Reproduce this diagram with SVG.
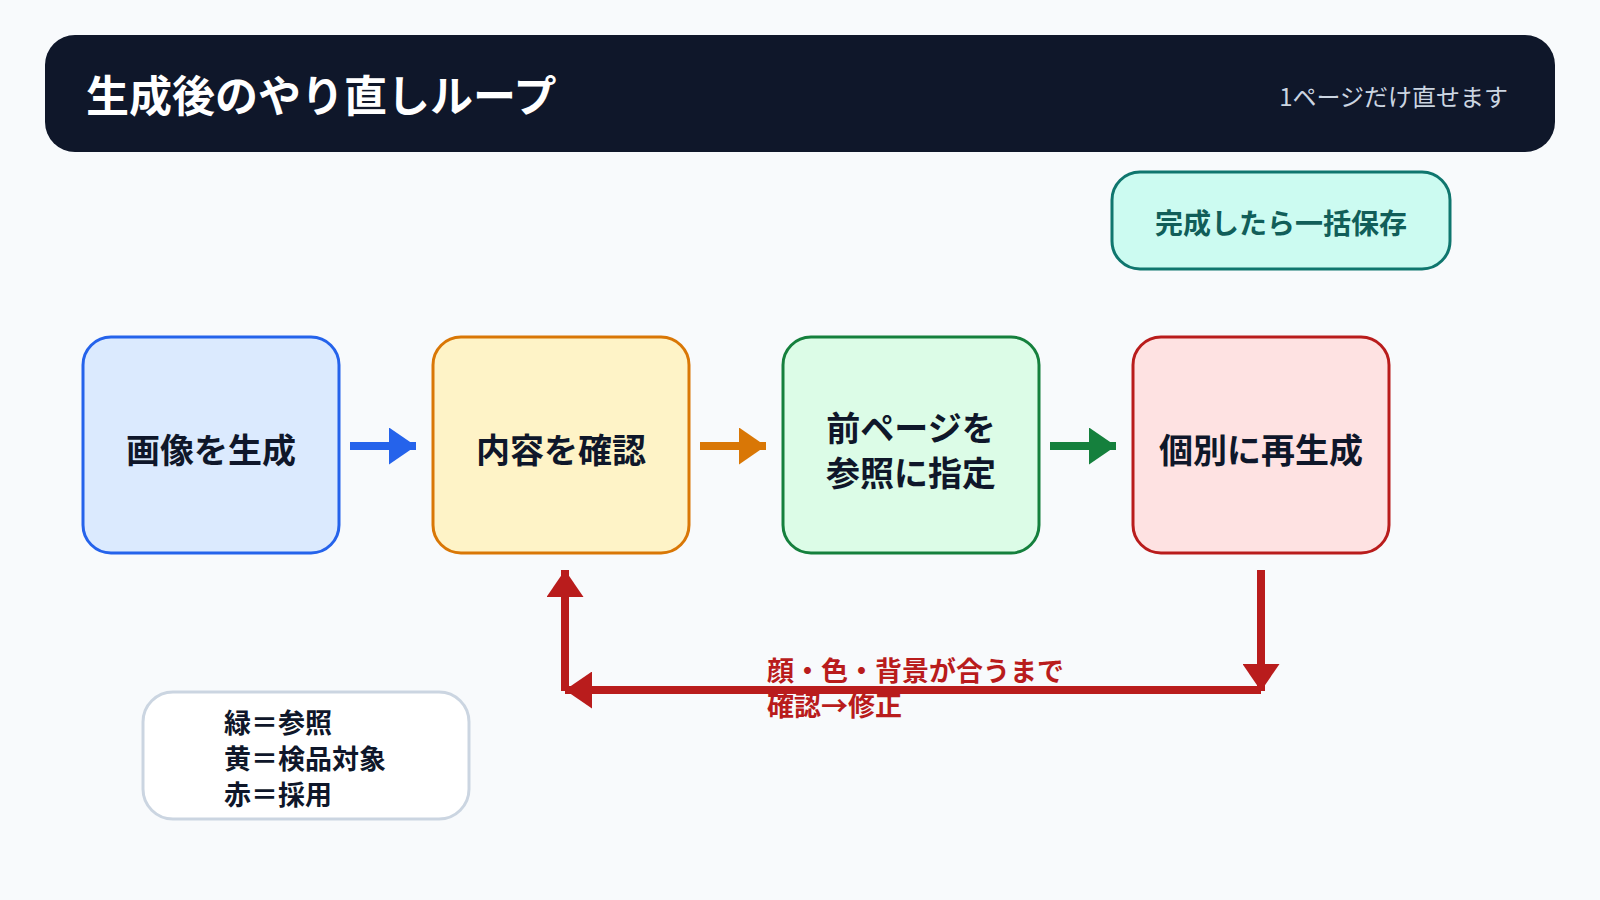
<svg xmlns="http://www.w3.org/2000/svg" width="1600" height="900" viewBox="0 0 1600 900">
  <style>
    text { font-family: "Noto Sans CJK JP", "Noto Sans", sans-serif; }
    .title { font-size: 43px; font-weight: 700; fill: #ffffff; }
    .sub { font-size: 24px; font-weight: 400; fill: #cbd5e1; }
    .node { stroke-width: 3; }
    .nlabel { font-size: 34px; font-weight: 700; fill: #0f172a; text-anchor: middle; }
    .save { font-size: 28px; font-weight: 700; fill: #115e59; text-anchor: middle; }
    .loop { font-size: 27px; font-weight: 700; fill: #b91c1c; }
    .legend { font-size: 27px; font-weight: 700; fill: #0f172a; }
    .conn { fill: none; stroke-width: 8; }
  </style>
  <defs>
    <marker id="hBlue" markerUnits="userSpaceOnUse" markerWidth="27" markerHeight="37" refX="27" refY="18.5" orient="auto">
      <path d="M0,0 L27,18.5 L0,37 Z" fill="#2563eb"/>
    </marker>
    <marker id="hOrange" markerUnits="userSpaceOnUse" markerWidth="27" markerHeight="37" refX="27" refY="18.5" orient="auto">
      <path d="M0,0 L27,18.5 L0,37 Z" fill="#d97706"/>
    </marker>
    <marker id="hGreen" markerUnits="userSpaceOnUse" markerWidth="27" markerHeight="37" refX="27" refY="18.5" orient="auto">
      <path d="M0,0 L27,18.5 L0,37 Z" fill="#15803d"/>
    </marker>
    <marker id="hRed" markerUnits="userSpaceOnUse" markerWidth="27" markerHeight="37" refX="27" refY="18.5" orient="auto">
      <path d="M0,0 L27,18.5 L0,37 Z" fill="#b91c1c"/>
    </marker>
  </defs>

  <rect x="0" y="0" width="1600" height="900" fill="#f8fafc"/>

  <g id="header">
    <rect x="45" y="35" width="1510" height="117" rx="30" fill="#0f172a"/>
    <text class="title" x="86" y="112">生成後のやり直しループ</text>
    <text class="sub" x="1508" y="106" text-anchor="end">1ページだけ直せます</text>
  </g>

  <g id="save-all">
    <rect x="1112" y="172" width="338" height="97" rx="28" fill="#ccfbf1" stroke="#0f766e" stroke-width="3"/>
    <text class="save" x="1281" y="234">完成したら一括保存</text>
  </g>

  <g id="node-generate">
    <rect class="node" x="83" y="337" width="256" height="216" rx="28" fill="#dbeafe" stroke="#2563eb"/>
    <text class="nlabel" x="211" y="463">画像を生成</text>
  </g>

  <g id="node-check">
    <rect class="node" x="433" y="337" width="256" height="216" rx="28" fill="#fef3c7" stroke="#d97706"/>
    <text class="nlabel" x="561" y="463">内容を確認</text>
  </g>

  <g id="node-reference">
    <rect class="node" x="783" y="337" width="256" height="216" rx="28" fill="#dcfce7" stroke="#15803d"/>
    <text class="nlabel" x="911" y="441">前ページを</text>
    <text class="nlabel" x="911" y="486">参照に指定</text>
  </g>

  <g id="node-regenerate">
    <rect class="node" x="1133" y="337" width="256" height="216" rx="28" fill="#fee2e2" stroke="#b91c1c"/>
    <text class="nlabel" x="1261" y="463">個別に再生成</text>
  </g>

  <g id="connectors">
    <line class="conn" x1="350" y1="446" x2="416" y2="446" stroke="#2563eb" marker-end="url(#hBlue)"/>
    <line class="conn" x1="700" y1="446" x2="766" y2="446" stroke="#d97706" marker-end="url(#hOrange)"/>
    <line class="conn" x1="1050" y1="446" x2="1116" y2="446" stroke="#15803d" marker-end="url(#hGreen)"/>
    <line class="conn" x1="1261" y1="570" x2="1261" y2="691" stroke="#b91c1c" marker-end="url(#hRed)"/>
    <line class="conn" x1="1261" y1="690" x2="565" y2="690" stroke="#b91c1c" marker-end="url(#hRed)"/>
    <line class="conn" x1="565" y1="691" x2="565" y2="570" stroke="#b91c1c" marker-end="url(#hRed)"/>
    <text class="loop" x="767" y="681">顔・色・背景が合うまで</text>
    <text class="loop" x="767" y="716">確認→修正</text>
  </g>

  <g id="legend">
    <rect x="143" y="692" width="326" height="127" rx="30" fill="#ffffff" stroke="#cbd5e1" stroke-width="3"/>
    <text class="legend" x="224" y="733">緑＝参照</text>
    <text class="legend" x="224" y="769">黄＝検品対象</text>
    <text class="legend" x="224" y="805">赤＝採用</text>
  </g>
</svg>
